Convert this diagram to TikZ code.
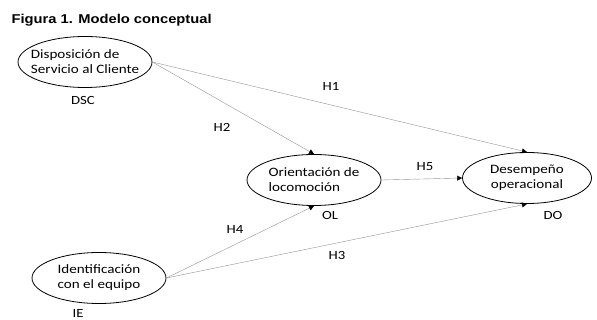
\documentclass[tikz,border=0pt]{standalone}
\usepackage{fontspec}
\setmainfont{Carlito}[FakeStretch=1.18]
\newfontfamily\titlefont{Liberation Sans}[FakeStretch=1.15]
\usetikzlibrary{shapes.geometric,arrows.meta}

\begin{document}
\begin{tikzpicture}[x=1pt,y=-1pt,
    construct/.style={draw,thick,ellipse,minimum width=134pt,minimum height=51pt,
        inner xsep=-20pt,inner ysep=-6pt,align=left,font=\fontsize{12.8}{15}\selectfont},
    tag/.style={font=\fontsize{12.5}{15}\selectfont},
    path/.style={draw=gray!85,-{Triangle[black,length=5pt,width=5pt]}}]
    \useasboundingbox (0,0) rectangle (597,320);
    % Title
    \node[anchor=west,font=\titlefont\bfseries\fontsize{12.8}{14}\selectfont] (title) at (8,20) {Figura 1. Modelo conceptual};
    % Constructs
    \node[construct] (dsc) at (85,62) {Disposición de\\Servicio al Cliente};
    \node[construct] (ol) at (314,180) {Orientación de\\locomoción};
    \node[construct,align=center,minimum width=129pt] (do) at (527,178) {Desempeño\\operacional};
    \node[construct] (ie) at (99,278) {Identificación\\con el equipo};
    \node[tag] (dsctag) at (83,100) {DSC};
    \node[tag] (oltag) at (330,215) {OL};
    \node[tag] (dotag) at (553,215) {DO};
    \node[tag] (ietag) at (78,313) {IE};
    % Paths
    \draw[path] (dsc.east) -- (do.north);
    \draw[path] (dsc.east) -- (ol.north);
    \draw[path] (ol.east) -- (do.west);
    \draw[path] (ie.east) -- (ol.south);
    \draw[path] (ie.east) -- (do.south);
    \node[tag] (h1) at (331,86) {H1};
    \node[tag] (h2) at (222,127) {H2};
    \node[tag] (h5) at (425,167) {H5};
    \node[tag] (h4) at (235,229) {H4};
    \node[tag] (h3) at (337,255) {H3};
\end{tikzpicture}
\end{document}
